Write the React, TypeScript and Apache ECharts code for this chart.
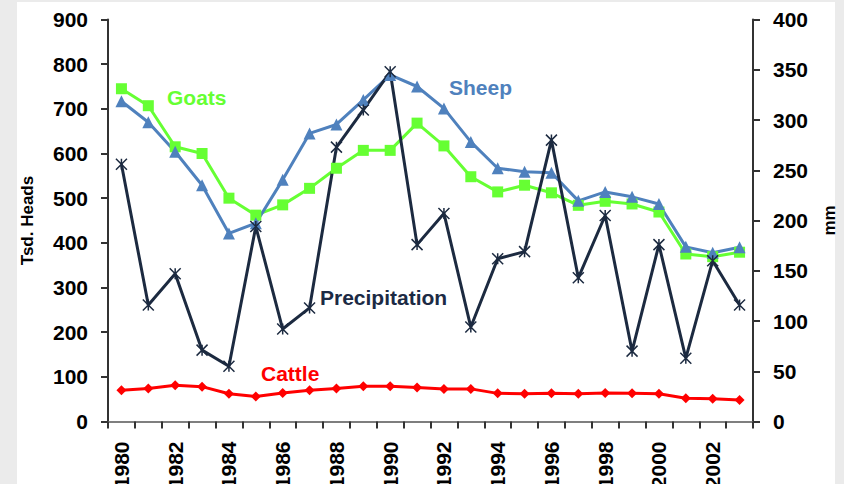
import React, { useEffect, useRef } from "react";
import * as echarts from "echarts";

const years = Array.from({ length: 24 }, (_, i) => String(1980 + i));
const goats = [745, 707, 615, 600, 500, 462, 485, 522, 567, 607, 607, 668, 617, 548, 514, 529, 512, 484, 493, 487, 469, 375, 369, 379];
const sheep = [717, 670, 604, 529, 421, 444, 541, 645, 665, 720, 776, 750, 701, 626, 567, 559, 557, 494, 514, 503, 487, 391, 378, 390];
const cattle = [70, 74, 81, 78, 62, 56, 64, 70, 74, 79, 79, 76, 73, 73, 63, 62, 63, 62, 64, 63, 62, 52, 51, 48];
const precipitation = [256, 116, 147, 71, 55, 194, 92, 113, 273, 310, 348, 176, 207, 94, 162, 169, 280, 143, 205, 70, 176, 63, 160, 116];
const leftTicks = { min: 0, max: 900, interval: 100 };
const rightTicks = { min: 0, max: 400, interval: 50 };

const FONT = "Liberation Sans, Arial, sans-serif";

export default function App() {
  const ref = useRef<HTMLDivElement>(null);
  useEffect(() => {
    const chart = echarts.init(ref.current!, null, { renderer: "svg" });
    const axisLine = { show: true, lineStyle: { color: "#333", width: 2 } };
    const labelStyle = { color: "#000", fontSize: 21, fontWeight: "bold" as const, fontFamily: FONT };
    chart.setOption({
      animation: false,
      backgroundColor: "#ebebeb",
      graphic: [
        { type: "rect", z: -10, silent: true, shape: { x: 17, y: 2, width: 818, height: 490 }, style: { fill: "#ffffff" } },
        { type: "text", left: 167, top: 87, z: 10, style: { text: "Goats", fill: "#66ff33", font: `bold 21px ${FONT}` } },
        { type: "text", left: 449, top: 77, z: 10, style: { text: "Sheep", fill: "#4f81bd", font: `bold 21px ${FONT}` } },
        { type: "text", left: 320, top: 287, z: 10, style: { text: "Precipitation", fill: "#1c2a44", font: `bold 21px ${FONT}` } },
        { type: "text", left: 261, top: 363, z: 10, style: { text: "Cattle", fill: "#ff0000", font: `bold 21px ${FONT}` } },
      ],
      grid: { left: 108, right: 91, top: 19.5, bottom: 62.5, containLabel: false, outerBoundsMode: "none" },
      xAxis: [
        {
          type: "category",
          data: years,
          boundaryGap: true,
          axisLine,
          axisTick: { show: true, interval: 0, length: 7, lineStyle: { color: "#333", width: 2 } },
          axisLabel: { ...labelStyle, interval: 1, rotate: 90, margin: 20 },
          splitLine: { show: false },
        },
        {
          type: "category",
          data: years,
          position: "top",
          axisLine: { show: true, lineStyle: { color: "#999", width: 1.5 } },
          axisTick: { show: false },
          axisLabel: { show: false },
        },
      ],
      yAxis: [
        {
          type: "value",
          ...leftTicks,
          name: "Tsd. Heads",
          nameLocation: "middle",
          nameRotate: 90,
          nameGap: 72,
          nameTextStyle: { color: "#000", fontSize: 17, fontWeight: "bold", fontFamily: FONT },
          axisLine,
          axisTick: { show: true, length: 7, lineStyle: { color: "#333", width: 2 } },
          axisLabel: { ...labelStyle, margin: 20 },
          splitLine: { show: false },
        },
        {
          type: "value",
          ...rightTicks,
          position: "right",
          name: "mm",
          nameLocation: "middle",
          nameRotate: 90,
          nameGap: 68,
          nameTextStyle: { color: "#000", fontSize: 17, fontWeight: "bold", fontFamily: FONT },
          axisLine,
          axisTick: { show: true, length: 7, lineStyle: { color: "#333", width: 2 } },
          axisLabel: { ...labelStyle, margin: 20 },
          splitLine: { show: false },
        },
      ],
      series: [
        {
          name: "Cattle",
          type: "line",
          data: cattle,
          yAxisIndex: 0,
          symbol: "diamond",
          symbolSize: 10,
          lineStyle: { color: "#ff0000", width: 3 },
          itemStyle: { color: "#ff0000" },
        },
        {
          name: "Goats",
          type: "line",
          data: goats,
          yAxisIndex: 0,
          symbol: "rect",
          symbolSize: 11,
          lineStyle: { color: "#66ff33", width: 3 },
          itemStyle: { color: "#66ff33" },
        },
        {
          name: "Sheep",
          type: "line",
          data: sheep,
          yAxisIndex: 0,
          symbol: "triangle",
          symbolSize: 12,
          lineStyle: { color: "#4f81bd", width: 3 },
          itemStyle: { color: "#4f81bd" },
        },
        {
          name: "Precipitation",
          type: "line",
          data: precipitation,
          yAxisIndex: 1,
          symbol: "path://M0,0L10,10M10,0L0,10M5,0L5,10",
          symbolSize: 11,
          lineStyle: { color: "#1c2a40", width: 3 },
          itemStyle: { color: "none", borderColor: "#1c2a40", borderWidth: 1.5 },
        },
      ],
    });
    return () => chart.dispose();
  }, []);
  return <div ref={ref} style={{ position: "fixed", left: 0, top: 0, width: 844, height: 484 }} />;
}
